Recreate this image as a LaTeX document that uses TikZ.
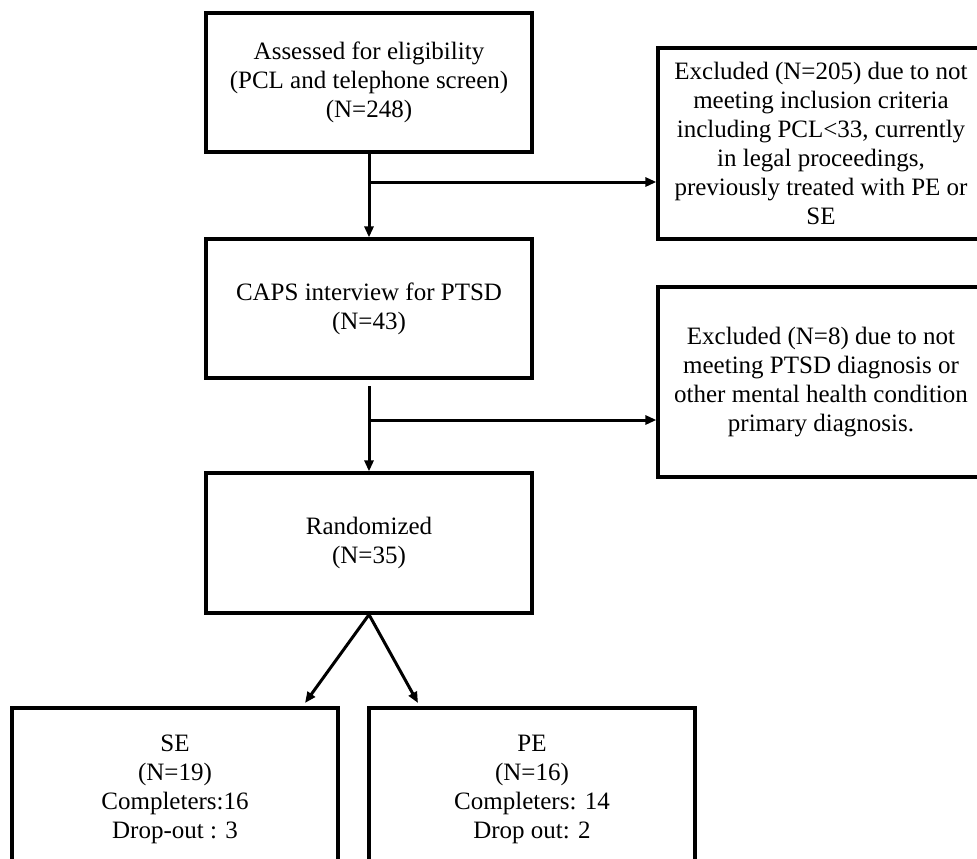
\documentclass[tikz,border=0pt]{standalone}
\usepackage{fontspec}
\setmainfont{Liberation Serif}
\usetikzlibrary{arrows.meta,calc}
\begin{document}
\begin{tikzpicture}[x=1pt,y=-1pt,
  box/.style={draw=black,line width=3.2pt,minimum width=326pt,align=center,inner sep=0pt,
    font=\fontsize{25}{29}\selectfont},
  arr/.style={line width=3pt,-{Triangle[length=11pt,width=9pt]}}]
\useasboundingbox (0,0) rectangle (977,859);
\clip (0,0) rectangle (977,859);
\node[box,minimum height=139pt] (b1) at (369,82.5) {Assessed for eligibility\\(PCL and telephone screen)\\(N=248)};
\node[box,minimum height=139pt] (b2) at (369,308.5) {CAPS interview for PTSD\\(N=43)};
\node[box,minimum height=140pt] (b3) at (369,543) {Randomized\\(N=35)};
\node[box,minimum height=191pt] (ex1) at (821,143.5) {Excluded (N=205) due to not\\meeting inclusion criteria\\including PCL<33, currently\\in legal proceedings,\\previously treated with PE or\\SE};
\node[box,minimum height=190pt] (ex2) at (821,382) {Excluded (N=8) due to not\\meeting PTSD diagnosis or\\other mental health condition\\primary diagnosis.};
\node[box,minimum height=162pt] (se) at (175,789) {SE\\(N=19)\\Completers:16\\Drop-out : 3};
\node[box,minimum height=162pt] (pe) at (532,789) {PE\\(N=16)\\Completers: 14\\Drop out: 2};
\coordinate (j1) at (369,182);
\coordinate (s2) at (369,386);
\coordinate (j2) at (369,420);
\coordinate (seT) at (305,703);
\coordinate (peT) at (418,703);
\draw[arr] (b1.south) -- (b2.north);
\draw[arr] (j1) -- (j1 -| ex1.west);
\draw[arr] (s2) -- (b3.north);
\draw[arr] (j2) -- (j2 -| ex2.west);
\draw[arr] (b3.south) -- (seT);
\draw[arr] (b3.south) -- (peT);
\end{tikzpicture}
\end{document}
